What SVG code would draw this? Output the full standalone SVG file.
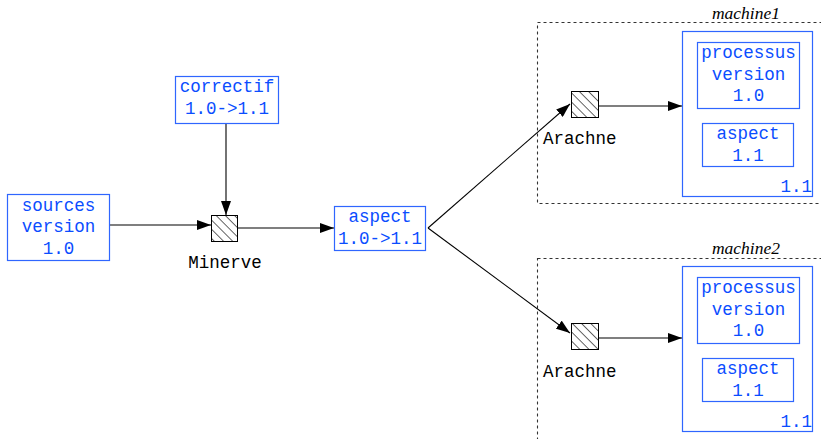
<svg xmlns="http://www.w3.org/2000/svg" width="821" height="439" viewBox="0 0 821 439">
  <defs>
    <style>
      .box { fill: #ffffff; stroke: #2f66ff; stroke-width: 1.2; }
      .t { font-family: "Liberation Mono", "DejaVu Sans Mono", monospace; font-size: 17.5px; fill: #0a4dff; text-anchor: middle; }
      .lbl { font-family: "Liberation Mono", "DejaVu Sans Mono", monospace; font-size: 17.5px; fill: #000000; }
      .mach { font-family: "Liberation Serif", "Times New Roman", serif; font-style: italic; font-size: 17.5px; fill: #000000; text-anchor: middle; }
      .zone { fill: none; stroke: #333333; stroke-width: 1.1; stroke-dasharray: 3 3; }
      .tool { fill: url(#hatch); stroke: #000000; stroke-width: 1; }
      .edge { fill: none; stroke: #000000; stroke-width: 1.1; marker-end: url(#arrow); }
    </style>
    <pattern id="hatch" patternUnits="userSpaceOnUse" width="6.5" height="6.5" patternTransform="rotate(-45)">
      <rect width="6.5" height="6.5" fill="#ffffff"/>
      <line x1="0" y1="0" x2="0" y2="6.5" stroke="#000000" stroke-width="1.2"/>
    </pattern>
    <marker id="arrow" viewBox="0 0 14 10" refX="14" refY="5" markerWidth="14" markerHeight="10" markerUnits="userSpaceOnUse" orient="auto">
      <path d="M0,0 L14,5 L0,10 Z" fill="#000000"/>
    </marker>
  </defs>

  <!-- machine zones -->
  <g id="machine1">
    <rect class="zone" x="537.5" y="22.5" width="290" height="181"/>
    <text class="mach" x="746" y="19">machine1</text>
  </g>
  <g id="machine2">
    <rect class="zone" x="537.5" y="258.5" width="290" height="200"/>
    <text class="mach" x="746" y="254">machine2</text>
  </g>

  <!-- connectors -->
  <g id="connectors">
    <line class="edge" x1="107" y1="225" x2="211" y2="225"/>
    <line class="edge" x1="226" y1="124" x2="226" y2="215"/>
    <line class="edge" x1="238" y1="228" x2="334" y2="228"/>
    <line class="edge" x1="428" y1="228" x2="570" y2="104"/>
    <line class="edge" x1="428" y1="228" x2="570" y2="333"/>
    <line class="edge" x1="599" y1="106" x2="682" y2="106"/>
    <line class="edge" x1="599" y1="338" x2="682" y2="338"/>
  </g>

  <g id="sources">
    <rect class="box" x="7.5" y="194.5" width="102" height="66"/>
    <text class="t" x="58.5" y="211">sources</text>
    <text class="t" x="58.5" y="232">version</text>
    <text class="t" x="58.5" y="254">1.0</text>
  </g>

  <g id="correctif">
    <rect class="box" x="175.5" y="76.5" width="103" height="47"/>
    <text class="t" x="227" y="92">correctif</text>
    <text class="t" x="227" y="114">1.0-&gt;1.1</text>
  </g>

  <g id="minerve">
    <rect class="tool" x="211.5" y="215.5" width="26" height="26"/>
    <text class="lbl" x="225" y="268" text-anchor="middle">Minerve</text>
  </g>

  <g id="aspect-patch">
    <rect class="box" x="334.5" y="206.5" width="91" height="44"/>
    <text class="t" x="380" y="222">aspect</text>
    <text class="t" x="380" y="244">1.0-&gt;1.1</text>
  </g>

  <g id="arachne1">
    <rect class="tool" x="571.5" y="91.5" width="27" height="26"/>
    <text class="lbl" x="543" y="144">Arachne</text>
  </g>

  <g id="arachne2">
    <rect class="tool" x="571.5" y="323.5" width="27" height="26"/>
    <text class="lbl" x="543" y="377">Arachne</text>
  </g>

  <g id="install1">
    <rect class="box" x="682.5" y="31.5" width="130" height="165"/>
    <rect class="box" x="697.5" y="42.5" width="102" height="66"/>
    <text class="t" x="748.5" y="58">processus</text>
    <text class="t" x="748.5" y="80">version</text>
    <text class="t" x="748.5" y="101">1.0</text>
    <rect class="box" x="702.5" y="123.5" width="91" height="43"/>
    <text class="t" x="748" y="139">aspect</text>
    <text class="t" x="748" y="161">1.1</text>
    <text class="t" x="812" y="192" style="text-anchor:end">1.1</text>
  </g>

  <g id="install2">
    <rect class="box" x="682.5" y="266.5" width="130" height="165"/>
    <rect class="box" x="697.5" y="277.5" width="102" height="66"/>
    <text class="t" x="748.5" y="293">processus</text>
    <text class="t" x="748.5" y="315">version</text>
    <text class="t" x="748.5" y="336">1.0</text>
    <rect class="box" x="702.5" y="358.5" width="91" height="43"/>
    <text class="t" x="748" y="374">aspect</text>
    <text class="t" x="748" y="396">1.1</text>
    <text class="t" x="812" y="427" style="text-anchor:end">1.1</text>
  </g>
</svg>
